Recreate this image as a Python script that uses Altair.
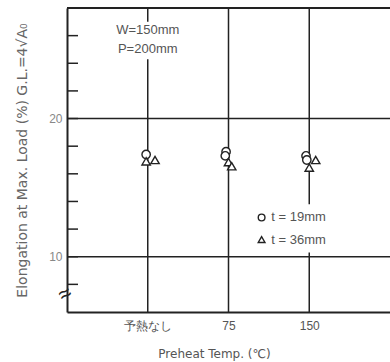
import altair as alt
import pandas as pd

# Preheat conditions on the x axis (positions 1..3 on a 0..4 linear scale)
categories = ["予熱なし", "75", "150"]
cat_pos = [1, 2, 3]

# Measured elongation at max load (%) – x is the category position with a small jitter
t19_x = [0.98, 1.97, 1.96, 2.96, 2.97]
t19_y = [17.4, 17.6, 17.3, 17.3, 17.0]
t36_x = [0.98, 1.09, 2.00, 2.04, 3.08, 3.00]
t36_y = [16.9, 17.0, 16.85, 16.55, 17.0, 16.45]

y_ticks = [8, 10, 12, 14, 16, 18, 20, 22, 24, 26]
grid_y = [10, 20]

# vertical guide lines, split where text sits on top of them
vseg_x = [1, 1, 2, 3, 3]
vseg_y1 = [6, 27.0, 6, 6, 13.8]
vseg_y2 = [24.3, 28, 28, 10.3, 28]

ink = "#222222"
text_col = "#555555"
font = "Liberation Sans"
title_font = "DejaVu Sans"

pts19 = pd.DataFrame({"x": t19_x, "y": t19_y})
pts36 = pd.DataFrame({"x": t36_x, "y": t36_y})
segs = pd.DataFrame({"x": vseg_x, "y1": vseg_y1, "y2": vseg_y2})
grid = pd.DataFrame({"y": grid_y})
ticks = pd.DataFrame({"y": y_ticks})

xs = alt.Scale(domain=[0, 4], nice=False, zero=False)
ys = alt.Scale(domain=[6, 28], nice=False, zero=False)

label_expr = ("datum.value == 1 ? '予熱なし' : datum.value == 2 ? '75' : "
              "datum.value == 3 ? '150' : ''")

base_axes = alt.Chart(pd.DataFrame({"x": [0], "y": [6]})).mark_point(opacity=0).encode(
    x=alt.X("x:Q", scale=xs, axis=alt.Axis(
        values=cat_pos, labelExpr=label_expr, ticks=False, grid=False,
        domainColor=ink, domainWidth=2, labelColor=text_col, labelFont=font,
        labelFontSize=12, labelPadding=8,
        title="Preheat Temp. (℃)", titleFont=title_font, titleFontSize=12,
        titleFontWeight="normal", titleColor=text_col, titlePadding=17,
        titleX=147, titleAlign="center")),
    y=alt.Y("y:Q", scale=ys, axis=alt.Axis(
        values=grid_y, ticks=False, grid=False, domainColor=ink, domainWidth=2,
        labelColor="#888888", labelFont=font, labelFontSize=12, labelPadding=5,
        title="Elongation at Max. Load (%) G.L.=4√A₀", titleFont=title_font,
        titleFontSize=14, titleFontWeight="normal", titleColor="#666666",
        titleX=-45, titleY=152, titleAngle=270, titleAlign="center",
        titleBaseline="middle")),
)

top_line = alt.Chart(pd.DataFrame({"y": [28]})).mark_rule(color=ink, strokeWidth=2).encode(
    y=alt.Y("y:Q", scale=ys), x=alt.value(0), x2=alt.value(323))

hgrid = alt.Chart(grid).mark_rule(color=ink, strokeWidth=1.5).encode(
    y=alt.Y("y:Q", scale=ys), x=alt.value(0), x2=alt.value(323))

tick_marks = alt.Chart(ticks).mark_rule(color=ink, strokeWidth=1.5).encode(
    y=alt.Y("y:Q", scale=ys), x=alt.value(0), x2=alt.value(11))

vlines = alt.Chart(segs).mark_rule(color=ink, strokeWidth=1.5).encode(
    x=alt.X("x:Q", scale=xs), y=alt.Y("y1:Q", scale=ys), y2="y2:Q")

circles = alt.Chart(pts19).mark_point(
    shape="circle", filled=True, fill="white", stroke=ink, strokeWidth=1.4,
    size=70, opacity=1).encode(
    x=alt.X("x:Q", scale=xs), y=alt.Y("y:Q", scale=ys))

triangles = alt.Chart(pts36).mark_point(
    shape="triangle-up", filled=True, fill="white", stroke=ink, strokeWidth=1.4,
    size=70, opacity=1).encode(
    x=alt.X("x:Q", scale=xs), y=alt.Y("y:Q", scale=ys))

# condition note above the first column
note = pd.DataFrame({"x": [1.0, 1.0], "y": [26.4, 25.0], "t": ["W=150mm", "P=200mm"]})
note_text = alt.Chart(note).mark_text(
    font=font, fontSize=13, color=text_col, align="center", baseline="middle").encode(
    x=alt.X("x:Q", scale=xs), y=alt.Y("y:Q", scale=ys), text="t:N")

# legend drawn inside the plot
leg_sym = pd.DataFrame({"x": [2.41, 2.41], "y": [12.84, 11.24],
                        "s": ["circle", "triangle-up"]})
leg_marks = alt.Chart(leg_sym).mark_point(
    filled=True, fill="white", stroke=ink, strokeWidth=1.4, size=45, opacity=1).encode(
    x=alt.X("x:Q", scale=xs), y=alt.Y("y:Q", scale=ys),
    shape=alt.Shape("s:N", scale=None, legend=None))

leg_lab = pd.DataFrame({"x": [2.53, 2.53], "y": [12.84, 11.24],
                        "t": ["t = 19mm", "t = 36mm"]})
leg_text = alt.Chart(leg_lab).mark_text(
    font=font, fontSize=13, color=text_col, align="left", baseline="middle").encode(
    x=alt.X("x:Q", scale=xs), y=alt.Y("y:Q", scale=ys), text="t:N")

# axis break symbol near the bottom of the y axis
brk = alt.Chart(pd.DataFrame({"y": [7.3], "t": ["≈"]})).mark_text(
    font=font, fontSize=22, color=ink, angle=330, align="center",
    baseline="middle").encode(
    x=alt.value(-2), y=alt.Y("y:Q", scale=ys), text="t:N")

chart = alt.layer(
    base_axes, top_line, hgrid, tick_marks, vlines, circles, triangles,
    note_text, leg_marks, leg_text, brk
).properties(
    width=323, height=304,
    autosize=alt.AutoSizeParams(type="none"),
    padding={"left": 67, "top": 8, "right": 0, "bottom": 50},
    background="white",
).configure_view(stroke=None)

chart.save("out.html", embed_options={"renderer": "svg", "actions": False})
